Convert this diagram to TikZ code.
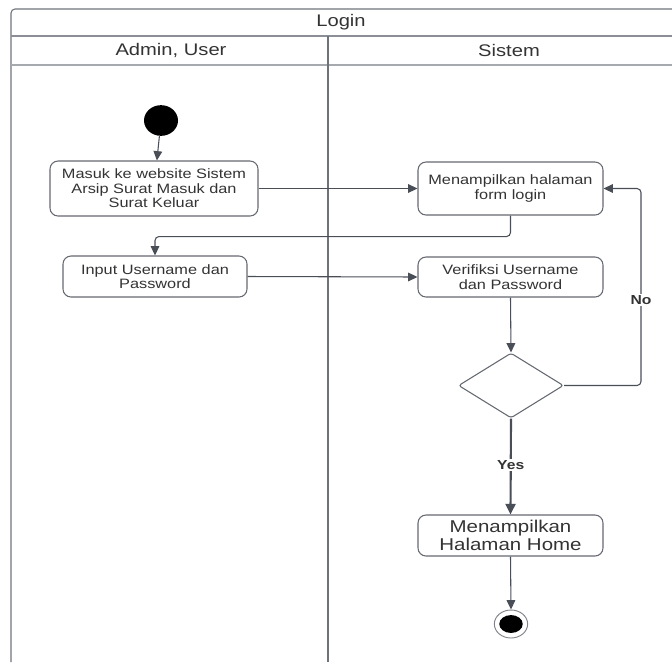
\documentclass[tikz,border=0pt]{standalone}
\usepackage{fontspec}
\setmainfont{Liberation Sans}[FakeStretch=1.2]
\usetikzlibrary{arrows.meta,shapes.geometric}
\definecolor{lineC}{HTML}{4A4F57}
\definecolor{frameC}{HTML}{6E737A}
\definecolor{sepC}{HTML}{A6A9AD}
\definecolor{txtC}{HTML}{333333}
\tikzset{
  actbox/.style={draw=lineC!85, rounded corners=6pt, line width=0.8pt, align=center, text=txtC,
    font=\fontsize{10.2}{10.8}\selectfont, inner sep=0pt},
  arr/.style={draw=lineC, line width=0.8pt, -{Triangle[length=7pt,width=6.5pt]}},
  lbl/.style={fill=white, font=\bfseries\fontsize{9.8}{10}\selectfont, text=txtC, inner sep=1pt},
  hdr/.style={font=\fontsize{12.6}{13}\selectfont, text=txtC}
}
\begin{document}
\begin{tikzpicture}[x=0.75pt,y=-0.75pt]
\useasboundingbox (0,0) rectangle (672,662);
% frame
\draw[frameC, line width=0.8pt, rounded corners=3pt] (11,662) -- (11,9) -- (675,9);
\draw[frameC!80, line width=0.8pt] (11,36) -- (675,36);
\draw[sepC, line width=0.8pt] (11,65) -- (675,65);
\draw[frameC, line width=0.8pt] (328,36) -- (328,662);
\node[hdr] (title) at (341,22.5) {Login};
\node[hdr] (lane1) at (171,50.5) {Admin, User};
\node[hdr] (lane2) at (509,50.5) {Sistem};
% nodes
\node[ellipse, fill=black, minimum width=25.5pt, minimum height=23pt, inner sep=0pt] (start) at (161,120.5) {};
\node[actbox, minimum width=156pt, minimum height=41.25pt] (b1) at (154,188.5) {Masuk ke website Sistem\\Arsip Surat Masuk dan\\Surat Keluar};
\node[actbox, minimum width=138pt, minimum height=30.75pt] (b2) at (155,276.5) {Input Username dan\\Password};
\node[actbox, minimum width=138.75pt, minimum height=39.75pt] (b3) at (510.5,188.5) {Menampilkan halaman\\form login};
\node[actbox, minimum width=138.75pt, minimum height=30pt] (b4) at (510.5,277) {Verifiksi Username\\dan Password};
\node[diamond, draw=lineC!85, line width=0.8pt, rounded corners=2pt, minimum width=78.75pt, minimum height=48.75pt, inner sep=0pt] (dia) at (511,385.5) {};
\node[actbox, minimum width=138.75pt, minimum height=30.75pt, font=\fontsize{12.8}{13}\selectfont] (b5) at (510.5,535.5) {Menampilkan\\Halaman Home};
\node[ellipse, draw=lineC!70, line width=0.7pt, fill=white, minimum width=25pt, minimum height=21pt, inner sep=0pt] (end) at (511,624) {};
\fill[black] (end.center) ellipse [x radius=8.8pt, y radius=6.7pt];
\coordinate (nocorner) at (641,385.5);
% connectors
\draw[arr] (start) -- (b1);
\draw[arr] (b1.east) -- (b3.west);
\draw[arr, rounded corners=3pt] (b3.south) -- ++(0,21) -| (b2.north);
\draw[arr] (b2.east) -- (b4.west);
\draw[arr] (b4.south) -- (dia.north);
\draw[arr, rounded corners=3pt] (dia.east) -- (nocorner) |- (b3.east) node[lbl, pos=0.217] {No};
\draw[arr, line width=1.6pt, -{Triangle[length=8pt,width=7.5pt]}] (dia.south) -- (b5.north) node[lbl, pos=0.485] {Yes};
\draw[arr] (b5.south) -- (end.north);
\end{tikzpicture}
\end{document}
